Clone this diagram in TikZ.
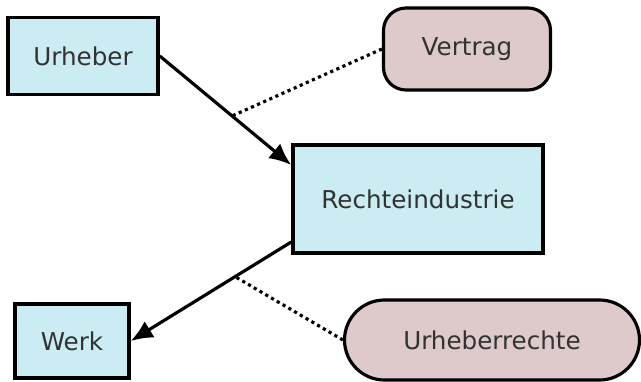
\documentclass[tikz,border=0pt]{standalone}
\usepackage{fontspec}
\setmainfont{DejaVu Sans}
\usepackage{tikz}
\usetikzlibrary{calc,arrows.meta}
\definecolor{boxblue}{RGB}{202,236,242}
\definecolor{boxrose}{RGB}{222,202,202}
\definecolor{txt}{RGB}{50,50,50}

\begin{document}
\begin{tikzpicture}[
    font=\fontsize{14}{17}\selectfont,
    kasten/.style={draw,line width=2pt,fill=boxblue,text=txt,minimum width=#1},
    blase/.style={draw,line width=1.8pt,fill=boxrose,text=txt},
    pfeil/.style={line width=1.8pt,-{Latex[length=4.4mm,width=3.8mm]}},
    punkte/.style={line width=1.8pt,dotted}]
                      \useasboundingbox (0,0) rectangle (12.82,-7.62);
                      \node[kasten=3cm,minimum height=1.54cm](u)at(1.66,-1.12){Urheber};
                      \node[kasten=5cm,minimum height=2.16cm](r)at(8.36,-3.98){Rechteindustrie};
                      \node[kasten=2.28cm,minimum height=1.48cm](w)at(1.44,-6.82){Werk};
                      \node[blase,rounded corners=0.45cm,minimum width=3.34cm,minimum height=1.64cm](v)at(9.34,-0.98){Vertrag};
                      \node[blase,rounded corners=0.8cm,minimum width=5.9cm,minimum height=1.6cm](ur)at(9.84,-6.8){Urheberrechte};
                      \draw[pfeil](u.east)--([yshift=0.68cm]r.west) coordinate[pos=0.55](m1);
                      \draw[pfeil]([yshift=-0.86cm]r.west)--(w.east) coordinate[pos=0.35](m2);
                      \draw[punkte](v.west)--(m1);
                      \draw[punkte](ur.west)--(m2);
                  \end{tikzpicture}
\end{document}
